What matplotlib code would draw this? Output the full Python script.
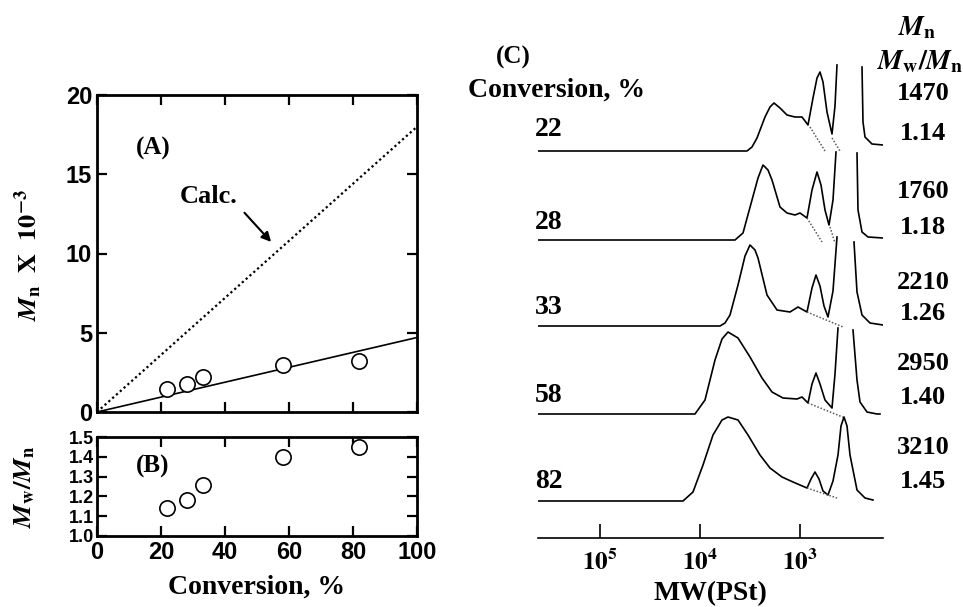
import numpy as np
import matplotlib
matplotlib.use('Agg')
import matplotlib.pyplot as plt

nan = np.nan

# conversion (%) and results
conversion = [22, 28, 33, 58, 82]
mn = [1.47, 1.76, 2.21, 2.95, 3.21]          # Mn x 10^-3
mn_text = ['1470', '1760', '2210', '2950', '3210']
pdi = [1.14, 1.18, 1.26, 1.40, 1.45]
pdi_text = ['1.14', '1.18', '1.26', '1.40', '1.45']
calc_x = [0, 100]
calc_mn = [0, 18.0]
fit_x = [0, 100]
fit_mn = [0, 4.7]

# GPC traces, log10(MW) and height above baseline
gpc22_x = [5.62, 3.53, 3.48, 3.43, 3.35, 3.30, 3.26, 3.20, 3.13, 3.05, 2.98, 2.92, 2.87, 2.83, 2.80,
           2.77, 2.73, 2.68, 2.65, 2.63, nan, 2.38, 2.37, 2.35, 2.28, 2.17]
gpc22_h = [0, 0, 4, 13, 34, 44, 48, 43, 36, 34, 34, 26, 53, 73, 79,
           69, 39, 17, 45, 86, nan, 84, 29, 14, 7, 6]
gpc28_x = [5.62, 3.65, 3.57, 3.48, 3.42, 3.37, 3.32, 3.28, 3.20, 3.13, 3.05, 3.00, 2.93, 2.88, 2.83,
           2.79, 2.75, 2.71, 2.67, 2.64, nan, 2.43, 2.42, 2.38, 2.32, 2.17]
gpc28_h = [0, 0, 7, 40, 62, 75, 70, 60, 33, 27, 25, 27, 22, 50, 68,
           55, 30, 15, 40, 88, nan, 87, 30, 8, 3, 2]
gpc33_x = [5.62, 3.80, 3.75, 3.70, 3.62, 3.55, 3.50, 3.45, 3.42, 3.33, 3.23, 3.10, 3.02, 2.93, 2.88,
           2.84, 2.80, 2.76, 2.72, 2.67, 2.63, nan, 2.46, 2.43, 2.38, 2.30, 2.17]
gpc33_h = [0, 0, 3, 11, 41, 70, 81, 76, 68, 31, 16, 14, 19, 14, 38,
           51, 40, 20, 9, 35, 89, nan, 84, 34, 11, 3, 1]
gpc58_x = [5.62, 4.05, 3.95, 3.85, 3.78, 3.72, 3.62, 3.50, 3.38, 3.28, 3.17, 3.03, 2.98, 2.92, 2.88,
           2.84, 2.80, 2.75, 2.68, 2.65, 2.62, nan, 2.47, 2.43, 2.40, 2.33, 2.23, 2.20]
gpc58_h = [0, 0, 14, 54, 75, 82, 76, 57, 36, 22, 16, 15, 17, 11, 30,
           41, 30, 14, 6, 40, 86, nan, 84, 34, 12, 2, 0, 0]
gpc82_x = [5.62, 4.17, 4.07, 3.97, 3.87, 3.78, 3.72, 3.62, 3.52, 3.40, 3.30, 3.18, 3.07, 3.00, 2.93,
           2.89, 2.85, 2.81, 2.77, 2.72, 2.67, 2.62, 2.59, 2.56, 2.53, 2.50, 2.43, 2.35, 2.27]
gpc82_h = [0, 0, 9, 36, 66, 81, 84, 81, 66, 46, 33, 24, 19, 16, 13,
           22, 29, 22, 10, 6, 20, 46, 75, 84, 75, 46, 11, 3, 1]
# dotted split lines under the oligomer peaks
dots22 = [([2.90, 2.75], [24, 0]), ([2.68, 2.60], [13, 0])]
dots28 = [([2.93, 2.78], [22, -2]), ([2.70, 2.65], [13, -3])]
dots33 = [([2.93, 2.57], [14, -1])]
dots58 = [([2.92, 2.55], [11, -4])]
dots82 = [([2.93, 2.63], [13, 3])]

traces = [(gpc22_x, gpc22_h, dots22), (gpc28_x, gpc28_h, dots28), (gpc33_x, gpc33_h, dots33),
          (gpc58_x, gpc58_h, dots58), (gpc82_x, gpc82_h, dots82)]
offsets = [387, 298, 212, 124, 37]

plt.rcParams['font.family'] = ['Liberation Serif', 'DejaVu Serif']
plt.rcParams['mathtext.fontset'] = 'stix'

W, H = 963, 607
fig = plt.figure(figsize=(W / 100, H / 100), dpi=100)

def box(l, t, r, b):
    return [l / W, 1 - b / H, (r - l) / W, (b - t) / H]

def fx(x):
    return x / W

def fy(y):
    return 1 - y / H

sans = dict(family='Liberation Sans', weight='bold')

# ---- panel A
axA = fig.add_axes(box(97, 95, 417, 412))
axA.plot(calc_x, calc_mn, color='k', ls=(0, (1, 1.3)), lw=1.6)
axA.plot(fit_x, fit_mn, color='k', lw=1.2)
axA.plot(conversion, mn, 'o', mfc='white', mec='k', ms=11, mew=1.2)
axA.set_xlim(0, 100)
axA.set_ylim(0, 20)
axA.set_xticks([0, 20, 40, 60, 80, 100])
axA.set_yticks([0, 5, 10, 15, 20])
axA.tick_params(direction='in', length=7, width=1.6, top=True, right=True, labelbottom=False)
for lab in axA.get_yticklabels():
    lab.set_fontproperties(sans)
    lab.set_fontsize(17)
for s in axA.spines.values():
    s.set_linewidth(2)
axA.text(0.12, 0.83, '(A)', transform=axA.transAxes, fontsize=18, fontweight='bold', ha='left', va='center')
axA.text(35, 13.6, 'Calc.', fontsize=19, fontweight='bold', ha='center', va='center')
axA.annotate('', xy=(55, 10.6), xytext=(45.5, 12.7),
             arrowprops=dict(arrowstyle='-|>', color='k', lw=1.5, mutation_scale=14))
fig.text(fx(28), fy(255), r'$\mathbfit{M}_\mathbf{n}\ \ \mathbf{X}\ \ \mathbf{10^{-3}}$',
         rotation=90, fontsize=19, ha='center', va='center')

# ---- panel B
axB = fig.add_axes(box(97, 437, 417, 536))
axB.plot(conversion, pdi, 'o', mfc='white', mec='k', ms=11, mew=1.2)
axB.set_xlim(0, 100)
axB.set_ylim(1.0, 1.5)
axB.set_xticks([0, 20, 40, 60, 80, 100])
axB.set_yticks([1.0, 1.1, 1.2, 1.3, 1.4, 1.5])
axB.set_yticklabels(['1.0', '1.1', '1.2', '1.3', '1.4', '1.5'])
axB.tick_params(direction='in', length=7, width=1.6, top=True, right=True)
axB.tick_params(axis='y', pad=2)
for lab in axB.get_yticklabels():
    lab.set_fontproperties(sans)
    lab.set_fontsize(13)
for lab in axB.get_xticklabels():
    lab.set_fontproperties(sans)
    lab.set_fontsize(17)
for s in axB.spines.values():
    s.set_linewidth(2)
axB.text(0.12, 0.7, '(B)', transform=axB.transAxes, fontsize=18, fontweight='bold', ha='left', va='center')
axB.set_xlabel('Conversion, %', fontsize=20, fontweight='bold', labelpad=8)
fig.text(fx(25), fy(487), r'$\mathbfit{M}_\mathbf{w}\mathbf{/}\mathbfit{M}_\mathbf{n}$',
         rotation=90, fontsize=19, ha='center', va='center')

# ---- panel C (GPC traces)
axC = fig.add_axes(box(538, 60, 883, 538))
for (x, h, dots), off in zip(traces, offsets):
    axC.plot(x, np.array(h) + off, color='k', lw=1.2)
    for dx, dh in dots:
        axC.plot(dx, np.array(dh) + off, color='0.35', ls=(0, (1, 1.2)), lw=1.1)
axC.set_xlim(5.62, 2.17)
axC.set_ylim(0, 478)
for k in ['top', 'left', 'right']:
    axC.spines[k].set_visible(False)
axC.spines['bottom'].set_linewidth(1.2)
axC.set_yticks([])
axC.set_xticks([5, 4, 3])
axC.set_xticklabels([r'$\mathbf{10^5}$', r'$\mathbf{10^4}$', r'$\mathbf{10^3}$'])
axC.tick_params(axis='x', direction='in', length=10, width=1.2, labelsize=18, pad=8)
axC.set_xlabel('MW(PSt)', fontsize=20, fontweight='bold', labelpad=5)

fig.text(fx(513), fy(57), '(C)', fontsize=18, fontweight='bold', ha='center', va='center')
fig.text(fx(468), fy(90), 'Conversion, %', fontsize=20, fontweight='bold', ha='left', va='center')
conv_y = [130, 223, 308, 395, 482]
for c, y in zip(conversion, conv_y):
    fig.text(fx(535), fy(y), str(c), fontsize=20, fontweight='bold', ha='left', va='center')

fig.text(fx(917), fy(28), r'$\mathbfit{M}_\mathbf{n}$', fontsize=20, ha='center', va='center')
fig.text(fx(920), fy(62), r'$\mathbfit{M}_\mathbf{w}\mathbf{/}\mathbfit{M}_\mathbf{n}$',
         fontsize=20, ha='center', va='center')
mn_y = [93, 192, 282, 363, 447]
pdi_y = [133, 228, 313, 397, 482]
for t, y in zip(mn_text, mn_y):
    fig.text(fx(923), fy(y), t, fontsize=19, fontweight='bold', ha='center', va='center')
for t, y in zip(pdi_text, pdi_y):
    fig.text(fx(923), fy(y), t, fontsize=19, fontweight='bold', ha='center', va='center')

fig.savefig('out.png', dpi=100)
